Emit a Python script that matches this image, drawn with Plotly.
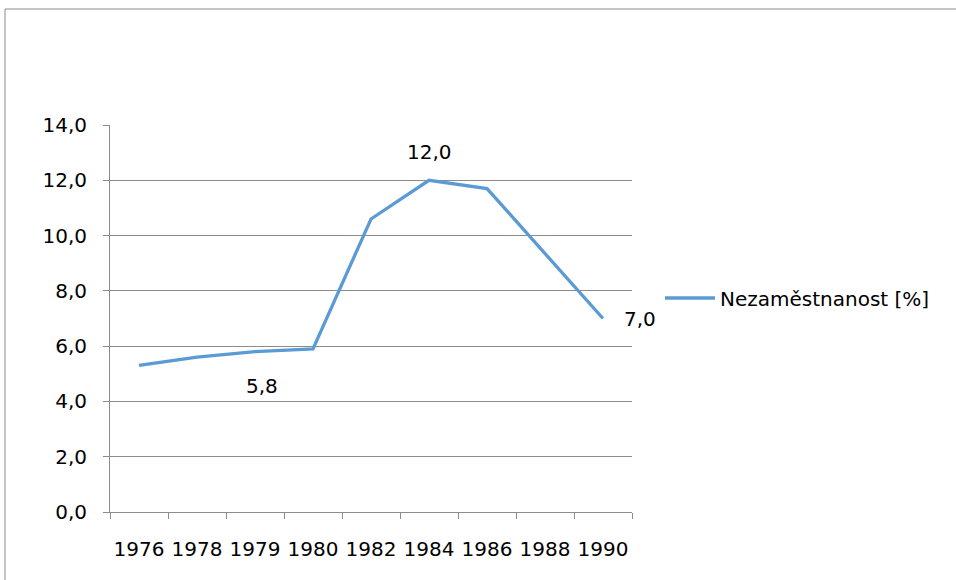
import plotly.graph_objects as go

roky = ["1976", "1978", "1979", "1980", "1982", "1984", "1986", "1988", "1990"]
nezamestnanost = [5.3, 5.6, 5.8, 5.9, 10.6, 12.0, 11.7, 9.35, 7.0]
popisky = {"1979": "5,8", "1984": "12,0", "1990": "7,0"}

W, H = 956, 580
L, R, T, B = 110, 324, 125, 68
pw, ph = W - L - R, H - T - B
grid = "#8c8c8c"
font = dict(family="DejaVu Sans", size=20, color="#000000")

fig = go.Figure()
fig.add_trace(go.Scatter(x=roky, y=nezamestnanost, mode="lines",
                         line=dict(color="#5B9BD5", width=3.3),
                         name="Nezaměstnanost [%]"))

# data labels (x given as category index, years would be read as indices)
shifts = {"1979": (7, -34), "1984": (0, 28), "1990": (37, 0)}
for r, txt in popisky.items():
    i = roky.index(r)
    dx, dy = shifts[r]
    fig.add_annotation(x=i, y=nezamestnanost[i], text=txt,
                       showarrow=False, xshift=dx, yshift=dy, font=font)

# outer chart border (left and top only visible)
px = lambda x: (x - L) / pw
py = lambda y: (H - B - y) / ph
fig.add_shape(type="line", xref="paper", yref="paper",
              x0=px(5), x1=px(W + 5), y0=py(9), y1=py(9),
              line=dict(color="#8a8a8a", width=1))
fig.add_shape(type="line", xref="paper", yref="paper",
              x0=px(5), x1=px(5), y0=py(9), y1=py(H + 5),
              line=dict(color="#8a8a8a", width=1))

fig.update_layout(
    width=W, height=H,
    margin=dict(l=L, r=R, t=T, b=B),
    plot_bgcolor="white", paper_bgcolor="white",
    separators=", ",
    font=font,
    showlegend=True,
    legend=dict(x=px(660), y=py(298), xanchor="left", yanchor="middle",
                itemwidth=50, font=font, bgcolor="rgba(0,0,0,0)"),
    xaxis=dict(type="category", range=[-0.5, len(roky) - 0.5], showgrid=False,
               showline=True, linecolor=grid, automargin=False, tickangle=0,
               ticks="outside", tickson="boundaries", ticklen=6, tickcolor=grid,
               ticklabelstandoff=19, tickfont=font),
    yaxis=dict(range=[0, 14], dtick=2, tickformat=".1f", showgrid=True,
               gridcolor=grid, gridwidth=1, showline=True, linecolor=grid,
               ticks="outside", ticklen=6, tickcolor=grid, zeroline=False,
               automargin=False, ticklabelstandoff=12, tickfont=font),
)

fig.write_html("out.html", config={"displayModeBar": False},
               post_script="document.body.style.margin='0';")
